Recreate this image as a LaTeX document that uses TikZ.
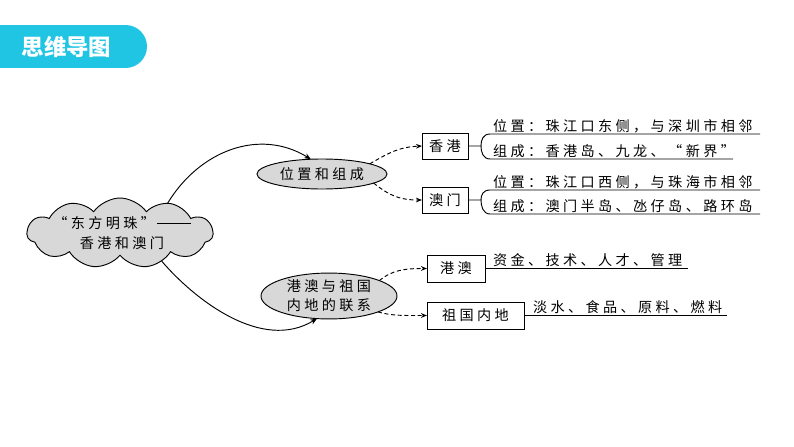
\documentclass[tikz,border=0pt]{standalone}
\usepackage{fontspec}
\usetikzlibrary{shapes.geometric,shapes.symbols,arrows.meta}
\newfontfamily\cjk[LetterSpace=24]{Noto Sans CJK SC}
\newfontfamily\cjkhead{Noto Sans CJK SC}
\definecolor{headc}{RGB}{32,197,227}
\definecolor{fillg}{RGB}{216,216,216}
\begin{document}
\begin{tikzpicture}[x=0.75pt,y=-0.75pt,
  every node/.style={inner sep=0pt,outer sep=0pt},
  txt/.style={font=\cjk\fontsize{10.6pt}{14pt}\selectfont},
  ell/.style={ellipse,draw=black,line width=0.7pt,fill=fillg,txt,align=center},
  boxn/.style={rectangle,draw=black,line width=0.7pt,fill=white,txt},
  link/.style={line width=0.7pt,-{Stealth[length=5pt,width=4pt]}},
  dlink/.style={line width=0.7pt,dashed,dash pattern=on 3pt off 2pt,-{Stealth[length=4.5pt,width=3.5pt]}},
  uline/.style={line width=0.7pt},
  lbl/.style={txt,anchor=base west}]
\useasboundingbox (0,0) rectangle (794,447);
% header
\fill[headc] (0,25) rectangle (125.5,68);
\fill[headc] (125.5,46.5) circle[radius=16.125pt];
\node[font=\cjkhead\bfseries\fontsize{16.8pt}{18pt}\selectfont,text=white] (head) at (66.5,47) {思维导图};
% root cloud
\node[cloud,cloud puffs=11,cloud puff arc=110,aspect=2.7,draw=black,line width=0.7pt,fill=fillg,
  minimum width=139.5pt,minimum height=52.5pt] (root) at (120,233) {};
\node[txt,align=center] (roottxt) at (122,233.5)
  {“东方明珠”\,\rule[0.36em]{25pt}{0.6pt}\\[1pt]香港和澳门};
% ellipses
\node[ell,minimum width=97.5pt,minimum height=22.5pt] (e1) at (322,174) {位置和组成};
\node[ell,minimum width=102pt,minimum height=31.5pt] (e2) at (329,296) {港澳与祖国\\[0.5pt]内地的联系};
% boxes
\node[boxn,minimum width=34.5pt,minimum height=19.5pt] (hk) at (445,146) {香港};
\node[boxn,minimum width=34.5pt,minimum height=19.5pt] (mo) at (445,200) {澳门};
\node[boxn,minimum width=43.5pt,minimum height=20.25pt] (ga) at (456,268.5) {港澳};
\node[boxn,minimum width=72.75pt,minimum height=20.25pt] (nd) at (475.5,315.5) {祖国内地};
% main curved arrows
\draw[link] (root.32) .. controls (200,150) and (260,128) .. (e1.127);
\draw[link] (root.-34) .. controls (195,300) and (262,352) .. (e2.-118);
% dashed arrows
\draw[dlink] (e1.12) .. controls (390,152) and (400,147) .. (hk.west);
\draw[dlink] (e1.-10) .. controls (390,196) and (400,200) .. (mo.west);
\draw[dlink] (e2.17) .. controls (392,270) and (405,268.5) .. (ga.west);
\draw[dlink] (e2.-18) .. controls (392,316) and (405,315.5) .. (nd.west);
% Hong Kong brackets
\coordinate (hkb) at (481,146);
\coordinate (hkt) at (490,134);
\coordinate (hkd) at (490,159);
\coordinate (hkte) at (760,134);
\coordinate (hkde) at (733,159);
\draw[uline] (hk.east) -- (hkb) .. controls (481,140) and (483,134) .. (hkt) -- (hkte);
\draw[uline] (hkb) .. controls (481,152) and (483,159) .. (hkd) -- (hkde);
\node[lbl] (hk1) at (493,131.5) {位置：珠江口东侧，与深圳市相邻};
\node[lbl] (hk2) at (493,156.5) {组成：香港岛、九龙、“新界”};
% Macao brackets
\coordinate (mob) at (481,200);
\coordinate (mot) at (490,190);
\coordinate (mod) at (490,214);
\coordinate (mote) at (760,190);
\coordinate (mode) at (760,214);
\draw[uline] (mo.east) -- (mob) .. controls (481,195) and (483,190) .. (mot) -- (mote);
\draw[uline] (mob) .. controls (481,206) and (483,214) .. (mod) -- (mode);
\node[lbl] (mo1) at (493,187.5) {位置：珠江口西侧，与珠海市相邻};
\node[lbl] (mo2) at (493,211.5) {组成：澳门半岛、氹仔岛、路环岛};
% links
\coordinate (gae) at (688,268);
\draw[uline] (ga.east |- gae) -- (gae);
\node[lbl] (ga1) at (493,265.5) {资金、技术、人才、管理};
\coordinate (nde) at (727,315);
\draw[uline] (nd.east |- nde) -- (nde);
\node[lbl] (nd1) at (533,312.5) {淡水、食品、原料、燃料};
\end{tikzpicture}
\end{document}
